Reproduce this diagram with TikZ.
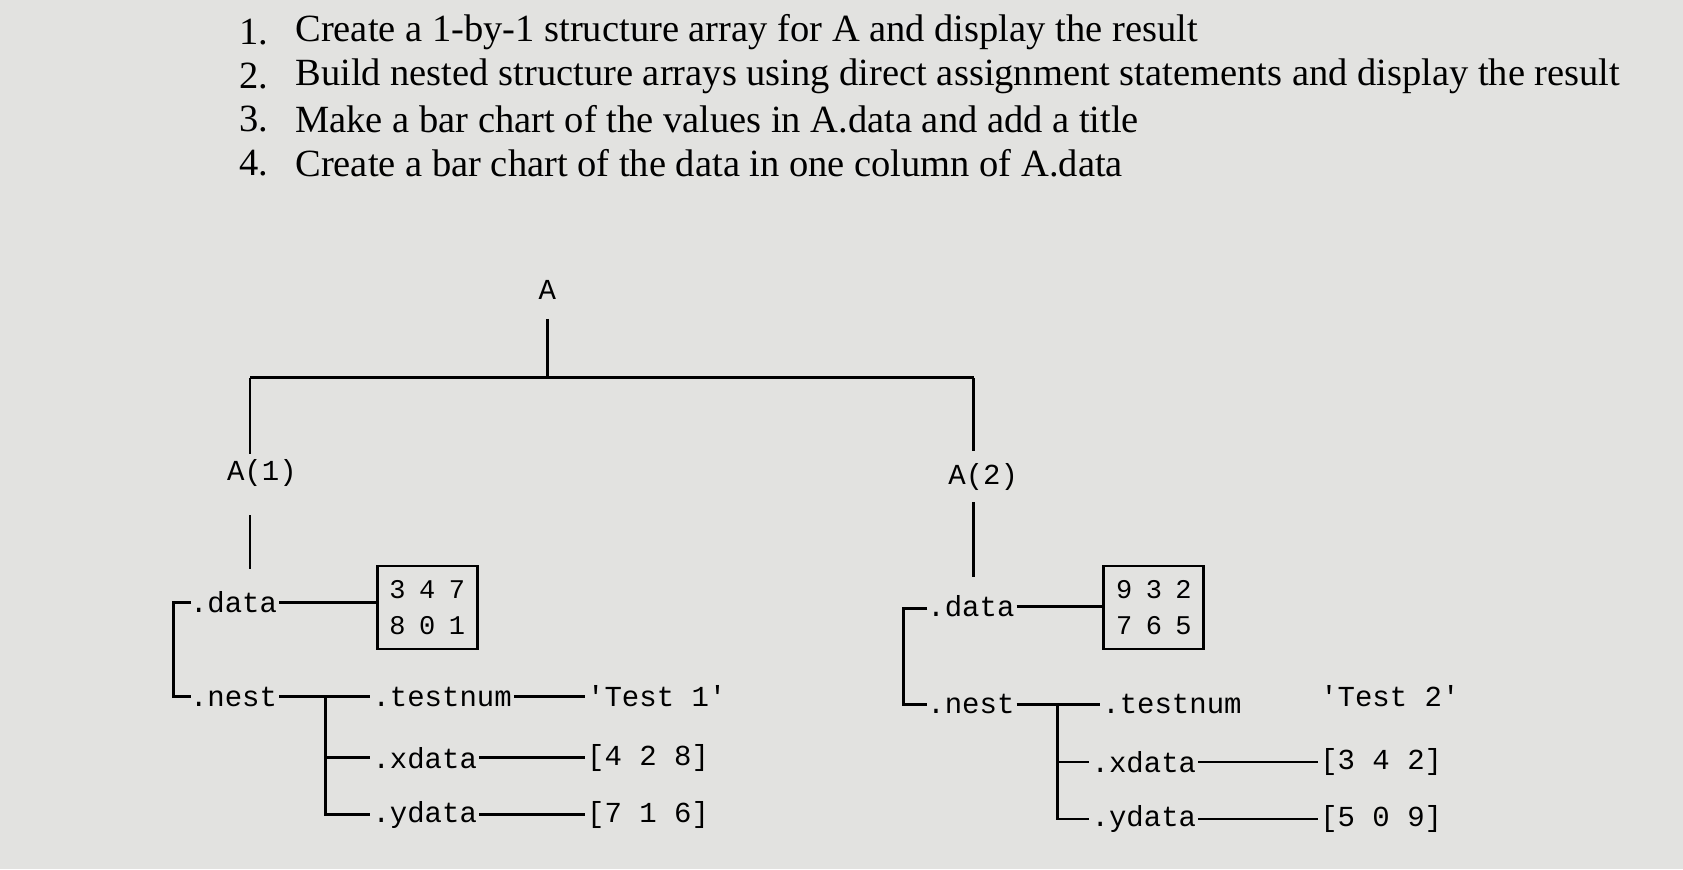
\documentclass[tikz,border=0pt]{standalone}
\usepackage{fontspec}
\setmainfont{Liberation Serif}
\newfontfamily\mono{Liberation Mono}
\begin{document}
\begin{tikzpicture}[x=1.0733pt,y=-1.0733pt,
  item/.style={anchor=west,font=\fontsize{38.5}{40}\selectfont,inner sep=0},
  num/.style={anchor=east,font=\fontsize{38.5}{40}\selectfont,inner sep=0},
  lbl/.style={font=\mono\fontsize{29}{31}\selectfont,inner sep=2pt},
  ln/.style={line width=2.8pt},
  mat/.style={draw,line width=2.8pt,font=\mono\fontsize{27}{36}\selectfont,inner sep=3pt,align=center,minimum width=100pt,minimum height=83pt}]
\fill[fill={rgb,255:red,226;green,226;blue,224}] (0,0) rectangle (1568,810);
\useasboundingbox (0,0) rectangle (1568,810);
% list
\foreach \n/\y/\t in {1/30/{Create a 1-by-1 structure array for A and display the result},
  2/71/{Build nested structure arrays using direct assignment statements and display the result},
  3/111/{Make a bar chart of the values in A.data and add a title},
  4/152/{Create a bar chart of the data in one column of A.data}}{
  \node[num] (n\n) at (250,\y) {\n.};
  \node[item] (t\n) at (275,\y) {\t};
}
% tree
\node[lbl] (A) at (510,270) {A};
\coordinate (top) at (510,352);
\coordinate (L) at (233,352);
\coordinate (R) at (907,352);
\draw[ln] (510,297) -- (top);
\draw[ln] (L) -- (R);
\node[lbl] (A1) at (244,441) {A(1)};
\node[lbl] (A2) at (916,444) {A(2)};
\draw[ln] (L) -- (233,423);
\draw[ln] (R) -- (907,420);
\draw[ln] (233,480) -- (233,530);
\draw[ln] (907,468) -- (907,538);
% left
\node[lbl,anchor=west] (d1) at (175,561) {.data};
\node[mat] (m1) at (398,566) {3\,\,\,4\,\,\,7\\8\,\,\,0\,\,\,1};
\draw[ln] (d1.east) -- (d1.east -| m1.west);
\node[lbl,anchor=west] (ne1) at (175,649) {.nest};
\draw[ln] (178,561) -| (162,649) -- (178,649);
\node[lbl,anchor=west] (tn1) at (345,649) {.testnum};
\node[lbl,anchor=west] (xd1) at (345,706) {.xdata};
\node[lbl,anchor=west] (yd1) at (345,759) {.ydata};
\node[lbl,anchor=west] (tv1) at (545,649) {'Test 1'};
\node[lbl,anchor=west] (xv1) at (545,706) {[4 2 8]};
\node[lbl,anchor=west] (yv1) at (545,759) {[7 1 6]};
\draw[ln] (ne1.east) -- (tn1.west);
\draw[ln] (303,650) |- (yd1.west);
\draw[ln] (303,706) -- (xd1.west);
\draw[ln] (tn1.east) -- (tv1.west);
\draw[ln] (xd1.east) -- (xv1.west);
\draw[ln] (yd1.east) -- (yv1.west);
% right
\node[lbl,anchor=west] (d2) at (862,565) {.data};
\node[mat] (m2) at (1075,566) {9\,\,\,3\,\,\,2\\7\,\,\,6\,\,\,5};
\draw[ln] (d2.east) -- (d2.east -| m2.west);
\node[lbl,anchor=west] (ne2) at (862,656) {.nest};
\draw[ln] (864,567) -| (842,656) -- (864,656);
\node[lbl,anchor=west] (tn2) at (1025,656) {.testnum};
\node[lbl,anchor=west] (xd2) at (1015,710) {.xdata};
\node[lbl,anchor=west] (yd2) at (1015,763) {.ydata};
\node[lbl,anchor=west] (tv2) at (1228,649) {'Test 2'};
\node[lbl,anchor=west] (xv2) at (1228,710) {[3 4 2]};
\node[lbl,anchor=west] (yv2) at (1228,763) {[5 0 9]};
\draw[ln] (ne2.east) -- (tn2.west);
\draw[ln] (985,657) |- (yd2.west);
\draw[ln] (985,710) -- (xd2.west);
\draw[ln] (xd2.east) -- (xv2.west);
\draw[ln] (yd2.east) -- (yv2.west);
\end{tikzpicture}
\end{document}
